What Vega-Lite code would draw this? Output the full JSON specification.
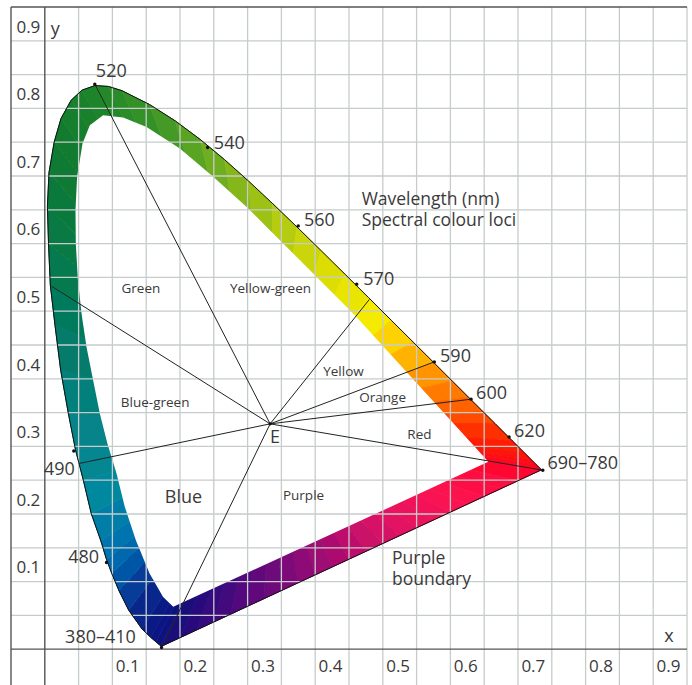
{
"$schema": "https://vega.github.io/schema/vega-lite/v6.json",
"width": 676, "height": 678,
"autosize": {"type": "none"},
"padding": {"left": 11, "top": 7, "right": 5, "bottom": 0},
"background": "white",
"config": {"view": {"stroke": null}, "text": {"font": "Open Sans", "color": "#3a3a3a"}},
"datasets": {
"wedges": [
{"w":1,"v":0,"x":0.3333,"y":0.3333,"t":400},{"w":1,"v":1,"x":0.1741,"y":0.005,"t":400},{"w":1,"v":2,"x":0.1714,"y":0.0051,"t":400},
{"w":2,"v":0,"x":0.3333,"y":0.3333,"t":430},{"w":2,"v":1,"x":0.1714,"y":0.0051,"t":430},{"w":2,"v":2,"x":0.1644,"y":0.0109,"t":430},
{"w":3,"v":0,"x":0.3333,"y":0.3333,"t":445},{"w":3,"v":1,"x":0.1644,"y":0.0109,"t":445},{"w":3,"v":2,"x":0.1566,"y":0.0177,"t":445},
{"w":4,"v":0,"x":0.3333,"y":0.3333,"t":455},{"w":4,"v":1,"x":0.1566,"y":0.0177,"t":455},{"w":4,"v":2,"x":0.144,"y":0.0297,"t":455},
{"w":5,"v":0,"x":0.3333,"y":0.3333,"t":465},{"w":5,"v":1,"x":0.144,"y":0.0297,"t":465},{"w":5,"v":2,"x":0.1241,"y":0.0578,"t":465},
{"w":6,"v":0,"x":0.3333,"y":0.3333,"t":472.5},{"w":6,"v":1,"x":0.1241,"y":0.0578,"t":472.5},{"w":6,"v":2,"x":0.1096,"y":0.0868,"t":472.5},
{"w":7,"v":0,"x":0.3333,"y":0.3333,"t":476.5},{"w":7,"v":1,"x":0.1096,"y":0.0868,"t":476.5},{"w":7,"v":2,"x":0.099,"y":0.1123,"t":476.5},
{"w":8,"v":0,"x":0.3333,"y":0.3333,"t":479},{"w":8,"v":1,"x":0.099,"y":0.1123,"t":479},{"w":8,"v":2,"x":0.0913,"y":0.1327,"t":479},
{"w":9,"v":0,"x":0.3333,"y":0.3333,"t":481},{"w":9,"v":1,"x":0.0913,"y":0.1327,"t":481},{"w":9,"v":2,"x":0.083,"y":0.16,"t":481},
{"w":10,"v":0,"x":0.3333,"y":0.3333,"t":483.5},{"w":10,"v":1,"x":0.083,"y":0.16,"t":483.5},{"w":10,"v":2,"x":0.0687,"y":0.2007,"t":483.5},
{"w":11,"v":0,"x":0.3333,"y":0.3333,"t":486.5},{"w":11,"v":1,"x":0.0687,"y":0.2007,"t":486.5},{"w":11,"v":2,"x":0.057,"y":0.25,"t":486.5},
{"w":12,"v":0,"x":0.3333,"y":0.3333,"t":489},{"w":12,"v":1,"x":0.057,"y":0.25,"t":489},{"w":12,"v":2,"x":0.0454,"y":0.295,"t":489},
{"w":13,"v":0,"x":0.3333,"y":0.3333,"t":491},{"w":13,"v":1,"x":0.0454,"y":0.295,"t":491},{"w":13,"v":2,"x":0.0348,"y":0.349,"t":491},
{"w":14,"v":0,"x":0.3333,"y":0.3333,"t":493.5},{"w":14,"v":1,"x":0.0348,"y":0.349,"t":493.5},{"w":14,"v":2,"x":0.0235,"y":0.4127,"t":493.5},
{"w":15,"v":0,"x":0.3333,"y":0.3333,"t":496.2},{"w":15,"v":1,"x":0.0235,"y":0.4127,"t":496.2},{"w":15,"v":2,"x":0.015,"y":0.48,"t":496.2},
{"w":16,"v":0,"x":0.3333,"y":0.3333,"t":498.8},{"w":16,"v":1,"x":0.015,"y":0.48,"t":498.8},{"w":16,"v":2,"x":0.0082,"y":0.5384,"t":498.8},
{"w":17,"v":0,"x":0.3333,"y":0.3333,"t":501.2},{"w":17,"v":1,"x":0.0082,"y":0.5384,"t":501.2},{"w":17,"v":2,"x":0.0055,"y":0.6,"t":501.2},
{"w":18,"v":0,"x":0.3333,"y":0.3333,"t":503.8},{"w":18,"v":1,"x":0.0055,"y":0.6,"t":503.8},{"w":18,"v":2,"x":0.0039,"y":0.6548,"t":503.8},
{"w":19,"v":0,"x":0.3333,"y":0.3333,"t":506.2},{"w":19,"v":1,"x":0.0039,"y":0.6548,"t":506.2},{"w":19,"v":2,"x":0.0062,"y":0.705,"t":506.2},
{"w":20,"v":0,"x":0.3333,"y":0.3333,"t":508.8},{"w":20,"v":1,"x":0.0062,"y":0.705,"t":508.8},{"w":20,"v":2,"x":0.0139,"y":0.7502,"t":508.8},
{"w":21,"v":0,"x":0.3333,"y":0.3333,"t":511.2},{"w":21,"v":1,"x":0.0139,"y":0.7502,"t":511.2},{"w":21,"v":2,"x":0.024,"y":0.785,"t":511.2},
{"w":22,"v":0,"x":0.3333,"y":0.3333,"t":513.8},{"w":22,"v":1,"x":0.024,"y":0.785,"t":513.8},{"w":22,"v":2,"x":0.0389,"y":0.812,"t":513.8},
{"w":23,"v":0,"x":0.3333,"y":0.3333,"t":516.2},{"w":23,"v":1,"x":0.0389,"y":0.812,"t":516.2},{"w":23,"v":2,"x":0.055,"y":0.827,"t":516.2},
{"w":24,"v":0,"x":0.3333,"y":0.3333,"t":518.8},{"w":24,"v":1,"x":0.055,"y":0.827,"t":518.8},{"w":24,"v":2,"x":0.0743,"y":0.8338,"t":518.8},
{"w":25,"v":0,"x":0.3333,"y":0.3333,"t":521.2},{"w":25,"v":1,"x":0.0743,"y":0.8338,"t":521.2},{"w":25,"v":2,"x":0.094,"y":0.8325,"t":521.2},
{"w":26,"v":0,"x":0.3333,"y":0.3333,"t":523.8},{"w":26,"v":1,"x":0.094,"y":0.8325,"t":523.8},{"w":26,"v":2,"x":0.1142,"y":0.8262,"t":523.8},
{"w":27,"v":0,"x":0.3333,"y":0.3333,"t":527.5},{"w":27,"v":1,"x":0.1142,"y":0.8262,"t":527.5},{"w":27,"v":2,"x":0.1547,"y":0.8059,"t":527.5},
{"w":28,"v":0,"x":0.3333,"y":0.3333,"t":532.5},{"w":28,"v":1,"x":0.1547,"y":0.8059,"t":532.5},{"w":28,"v":2,"x":0.1929,"y":0.7816,"t":532.5},
{"w":29,"v":0,"x":0.3333,"y":0.3333,"t":537.5},{"w":29,"v":1,"x":0.1929,"y":0.7816,"t":537.5},{"w":29,"v":2,"x":0.2296,"y":0.7543,"t":537.5},
{"w":30,"v":0,"x":0.3333,"y":0.3333,"t":542.5},{"w":30,"v":1,"x":0.2296,"y":0.7543,"t":542.5},{"w":30,"v":2,"x":0.2658,"y":0.7243,"t":542.5},
{"w":31,"v":0,"x":0.3333,"y":0.3333,"t":547.5},{"w":31,"v":1,"x":0.2658,"y":0.7243,"t":547.5},{"w":31,"v":2,"x":0.3016,"y":0.6923,"t":547.5},
{"w":32,"v":0,"x":0.3333,"y":0.3333,"t":552.5},{"w":32,"v":1,"x":0.3016,"y":0.6923,"t":552.5},{"w":32,"v":2,"x":0.3373,"y":0.6589,"t":552.5},
{"w":33,"v":0,"x":0.3333,"y":0.3333,"t":557.5},{"w":33,"v":1,"x":0.3373,"y":0.6589,"t":557.5},{"w":33,"v":2,"x":0.3731,"y":0.6245,"t":557.5},
{"w":34,"v":0,"x":0.3333,"y":0.3333,"t":562.5},{"w":34,"v":1,"x":0.3731,"y":0.6245,"t":562.5},{"w":34,"v":2,"x":0.4087,"y":0.5896,"t":562.5},
{"w":35,"v":0,"x":0.3333,"y":0.3333,"t":567.5},{"w":35,"v":1,"x":0.4087,"y":0.5896,"t":567.5},{"w":35,"v":2,"x":0.4441,"y":0.5547,"t":567.5},
{"w":36,"v":0,"x":0.3333,"y":0.3333,"t":572.5},{"w":36,"v":1,"x":0.4441,"y":0.5547,"t":572.5},{"w":36,"v":2,"x":0.4788,"y":0.5202,"t":572.5},
{"w":37,"v":0,"x":0.3333,"y":0.3333,"t":577.5},{"w":37,"v":1,"x":0.4788,"y":0.5202,"t":577.5},{"w":37,"v":2,"x":0.5125,"y":0.4866,"t":577.5},
{"w":38,"v":0,"x":0.3333,"y":0.3333,"t":582.5},{"w":38,"v":1,"x":0.5125,"y":0.4866,"t":582.5},{"w":38,"v":2,"x":0.5448,"y":0.4544,"t":582.5},
{"w":39,"v":0,"x":0.3333,"y":0.3333,"t":587.5},{"w":39,"v":1,"x":0.5448,"y":0.4544,"t":587.5},{"w":39,"v":2,"x":0.5752,"y":0.4242,"t":587.5},
{"w":40,"v":0,"x":0.3333,"y":0.3333,"t":592.5},{"w":40,"v":1,"x":0.5752,"y":0.4242,"t":592.5},{"w":40,"v":2,"x":0.6029,"y":0.3965,"t":592.5},
{"w":41,"v":0,"x":0.3333,"y":0.3333,"t":597.5},{"w":41,"v":1,"x":0.6029,"y":0.3965,"t":597.5},{"w":41,"v":2,"x":0.627,"y":0.3725,"t":597.5},
{"w":42,"v":0,"x":0.3333,"y":0.3333,"t":602.5},{"w":42,"v":1,"x":0.627,"y":0.3725,"t":602.5},{"w":42,"v":2,"x":0.6482,"y":0.3514,"t":602.5},
{"w":43,"v":0,"x":0.3333,"y":0.3333,"t":607.5},{"w":43,"v":1,"x":0.6482,"y":0.3514,"t":607.5},{"w":43,"v":2,"x":0.6658,"y":0.334,"t":607.5},
{"w":44,"v":0,"x":0.3333,"y":0.3333,"t":615},{"w":44,"v":1,"x":0.6658,"y":0.334,"t":615},{"w":44,"v":2,"x":0.6915,"y":0.3083,"t":615},
{"w":45,"v":0,"x":0.3333,"y":0.3333,"t":625},{"w":45,"v":1,"x":0.6915,"y":0.3083,"t":625},{"w":45,"v":2,"x":0.7079,"y":0.292,"t":625},
{"w":46,"v":0,"x":0.3333,"y":0.3333,"t":635},{"w":46,"v":1,"x":0.7079,"y":0.292,"t":635},{"w":46,"v":2,"x":0.719,"y":0.2809,"t":635},
{"w":47,"v":0,"x":0.3333,"y":0.3333,"t":645},{"w":47,"v":1,"x":0.719,"y":0.2809,"t":645},{"w":47,"v":2,"x":0.726,"y":0.274,"t":645},
{"w":48,"v":0,"x":0.3333,"y":0.3333,"t":675},{"w":48,"v":1,"x":0.726,"y":0.274,"t":675},{"w":48,"v":2,"x":0.7347,"y":0.2653,"t":675},
{"w":49,"v":0,"x":0.3333,"y":0.3333,"t":702},{"w":49,"v":1,"x":0.7347,"y":0.2653,"t":702},{"w":49,"v":2,"x":0.70,"y":0.2492,"t":702},
{"w":50,"v":0,"x":0.3333,"y":0.3333,"t":705},{"w":50,"v":1,"x":0.70,"y":0.2492,"t":705},{"w":50,"v":2,"x":0.675,"y":0.2376,"t":705},
{"w":51,"v":0,"x":0.3333,"y":0.3333,"t":707.7},{"w":51,"v":1,"x":0.675,"y":0.2376,"t":707.7},{"w":51,"v":2,"x":0.65,"y":0.226,"t":707.7},
{"w":52,"v":0,"x":0.3333,"y":0.3333,"t":710.4},{"w":52,"v":1,"x":0.65,"y":0.226,"t":710.4},{"w":52,"v":2,"x":0.625,"y":0.2144,"t":710.4},
{"w":53,"v":0,"x":0.3333,"y":0.3333,"t":713.1},{"w":53,"v":1,"x":0.625,"y":0.2144,"t":713.1},{"w":53,"v":2,"x":0.60,"y":0.2027,"t":713.1},
{"w":54,"v":0,"x":0.3333,"y":0.3333,"t":715.7},{"w":54,"v":1,"x":0.60,"y":0.2027,"t":715.7},{"w":54,"v":2,"x":0.575,"y":0.1911,"t":715.7},
{"w":55,"v":0,"x":0.3333,"y":0.3333,"t":718.4},{"w":55,"v":1,"x":0.575,"y":0.1911,"t":718.4},{"w":55,"v":2,"x":0.55,"y":0.1795,"t":718.4},
{"w":56,"v":0,"x":0.3333,"y":0.3333,"t":721.1},{"w":56,"v":1,"x":0.55,"y":0.1795,"t":721.1},{"w":56,"v":2,"x":0.525,"y":0.1679,"t":721.1},
{"w":57,"v":0,"x":0.3333,"y":0.3333,"t":723.8},{"w":57,"v":1,"x":0.525,"y":0.1679,"t":723.8},{"w":57,"v":2,"x":0.50,"y":0.1563,"t":723.8},
{"w":58,"v":0,"x":0.3333,"y":0.3333,"t":726.5},{"w":58,"v":1,"x":0.50,"y":0.1563,"t":726.5},{"w":58,"v":2,"x":0.475,"y":0.1447,"t":726.5},
{"w":59,"v":0,"x":0.3333,"y":0.3333,"t":729.1},{"w":59,"v":1,"x":0.475,"y":0.1447,"t":729.1},{"w":59,"v":2,"x":0.45,"y":0.1331,"t":729.1},
{"w":60,"v":0,"x":0.3333,"y":0.3333,"t":731.8},{"w":60,"v":1,"x":0.45,"y":0.1331,"t":731.8},{"w":60,"v":2,"x":0.425,"y":0.1215,"t":731.8},
{"w":61,"v":0,"x":0.3333,"y":0.3333,"t":734.5},{"w":61,"v":1,"x":0.425,"y":0.1215,"t":734.5},{"w":61,"v":2,"x":0.40,"y":0.1099,"t":734.5},
{"w":62,"v":0,"x":0.3333,"y":0.3333,"t":737.2},{"w":62,"v":1,"x":0.40,"y":0.1099,"t":737.2},{"w":62,"v":2,"x":0.375,"y":0.0983,"t":737.2},
{"w":63,"v":0,"x":0.3333,"y":0.3333,"t":739.8},{"w":63,"v":1,"x":0.375,"y":0.0983,"t":739.8},{"w":63,"v":2,"x":0.35,"y":0.0867,"t":739.8},
{"w":64,"v":0,"x":0.3333,"y":0.3333,"t":742.5},{"w":64,"v":1,"x":0.35,"y":0.0867,"t":742.5},{"w":64,"v":2,"x":0.325,"y":0.0751,"t":742.5},
{"w":65,"v":0,"x":0.3333,"y":0.3333,"t":745.2},{"w":65,"v":1,"x":0.325,"y":0.0751,"t":745.2},{"w":65,"v":2,"x":0.30,"y":0.0635,"t":745.2},
{"w":66,"v":0,"x":0.3333,"y":0.3333,"t":747.9},{"w":66,"v":1,"x":0.30,"y":0.0635,"t":747.9},{"w":66,"v":2,"x":0.275,"y":0.0518,"t":747.9},
{"w":67,"v":0,"x":0.3333,"y":0.3333,"t":750.6},{"w":67,"v":1,"x":0.275,"y":0.0518,"t":750.6},{"w":67,"v":2,"x":0.25,"y":0.0402,"t":750.6},
{"w":68,"v":0,"x":0.3333,"y":0.3333,"t":753.3},{"w":68,"v":1,"x":0.25,"y":0.0402,"t":753.3},{"w":68,"v":2,"x":0.225,"y":0.0286,"t":753.3},
{"w":69,"v":0,"x":0.3333,"y":0.3333,"t":755.9},{"w":69,"v":1,"x":0.225,"y":0.0286,"t":755.9},{"w":69,"v":2,"x":0.20,"y":0.017,"t":755.9},
{"w":70,"v":0,"x":0.3333,"y":0.3333,"t":758.6},{"w":70,"v":1,"x":0.20,"y":0.017,"t":758.6},{"w":70,"v":2,"x":0.1741,"y":0.005,"t":758.6}
],
"loc": [
{"i":1,"x":0.1741,"y":0.005},{"i":2,"x":0.1714,"y":0.0051},{"i":3,"x":0.1644,"y":0.0109},{"i":4,"x":0.1566,"y":0.0177},{"i":5,"x":0.144,"y":0.0297},{"i":6,"x":0.1241,"y":0.0578},{"i":7,"x":0.1096,"y":0.0868},{"i":8,"x":0.099,"y":0.1123},{"i":9,"x":0.0913,"y":0.1327},{"i":10,"x":0.083,"y":0.16},{"i":11,"x":0.0687,"y":0.2007},{"i":12,"x":0.057,"y":0.25},{"i":13,"x":0.0454,"y":0.295},{"i":14,"x":0.0348,"y":0.349},{"i":15,"x":0.0235,"y":0.4127},{"i":16,"x":0.015,"y":0.48},{"i":17,"x":0.0082,"y":0.5384},{"i":18,"x":0.0055,"y":0.6},{"i":19,"x":0.0039,"y":0.6548},{"i":20,"x":0.0062,"y":0.705},{"i":21,"x":0.0139,"y":0.7502},{"i":22,"x":0.024,"y":0.785},{"i":23,"x":0.0389,"y":0.812},{"i":24,"x":0.055,"y":0.827},{"i":25,"x":0.0743,"y":0.8338},{"i":26,"x":0.094,"y":0.8325},{"i":27,"x":0.1142,"y":0.8262},{"i":28,"x":0.1547,"y":0.8059},{"i":29,"x":0.1929,"y":0.7816},{"i":30,"x":0.2296,"y":0.7543},{"i":31,"x":0.2658,"y":0.7243},{"i":32,"x":0.3016,"y":0.6923},{"i":33,"x":0.3373,"y":0.6589},{"i":34,"x":0.3731,"y":0.6245},{"i":35,"x":0.4087,"y":0.5896},{"i":36,"x":0.4441,"y":0.5547},{"i":37,"x":0.4788,"y":0.5202},{"i":38,"x":0.5125,"y":0.4866},{"i":39,"x":0.5448,"y":0.4544},{"i":40,"x":0.5752,"y":0.4242},{"i":41,"x":0.6029,"y":0.3965},{"i":42,"x":0.627,"y":0.3725},{"i":43,"x":0.6482,"y":0.3514},{"i":44,"x":0.6658,"y":0.334},{"i":45,"x":0.6915,"y":0.3083},{"i":46,"x":0.7079,"y":0.292},{"i":47,"x":0.719,"y":0.2809},{"i":48,"x":0.726,"y":0.274},{"i":49,"x":0.7347,"y":0.2653},{"i":50,"x":0.1741,"y":0.005}
],
"inner": [
{"o":1,"x":0.19,"y":0.0626},{"o":2,"x":0.175,"y":0.0773},{"o":3,"x":0.155,"y":0.1119},{"o":4,"x":0.1347,"y":0.1612},{"o":5,"x":0.1184,"y":0.2105},{"o":6,"x":0.1061,"y":0.2599},{"o":7,"x":0.0925,"y":0.3047},{"o":8,"x":0.0814,"y":0.3487},{"o":9,"x":0.0715,"y":0.3979},{"o":10,"x":0.0617,"y":0.4472},{"o":11,"x":0.0543,"y":0.4966},{"o":12,"x":0.0488,"y":0.5488},{"o":13,"x":0.0459,"y":0.6001},{"o":14,"x":0.0454,"y":0.6494},{"o":15,"x":0.0478,"y":0.6987},{"o":16,"x":0.0558,"y":0.7481},{"o":17,"x":0.0666,"y":0.7751},{"o":18,"x":0.0863,"y":0.7899},{"o":19,"x":0.1159,"y":0.7865},{"o":20,"x":0.1505,"y":0.7726},{"o":21,"x":0.1998,"y":0.7407},{"o":22,"x":0.2491,"y":0.6987},{"o":23,"x":0.2986,"y":0.6543},{"o":24,"x":0.3478,"y":0.605},{"o":25,"x":0.4022,"y":0.5507},{"o":26,"x":0.4563,"y":0.4966},{"o":27,"x":0.6562,"y":0.2771}
],
"vgrid": [{"x":0.05},{"x":0.1},{"x":0.15},{"x":0.2},{"x":0.25},{"x":0.3},{"x":0.35},{"x":0.4},{"x":0.45},{"x":0.5},{"x":0.55},{"x":0.6},{"x":0.65},{"x":0.7},{"x":0.75},{"x":0.8},{"x":0.85},{"x":0.9},{"x":0.95}],
"hgrid": [{"y":0.05},{"y":0.1},{"y":0.15},{"y":0.2},{"y":0.25},{"y":0.3},{"y":0.35},{"y":0.4},{"y":0.45},{"y":0.5},{"y":0.55},{"y":0.6},{"y":0.65},{"y":0.7},{"y":0.75},{"y":0.8},{"y":0.85},{"y":0.9}],
"vdark": [{"x":-0.05},{"x":0}],
"hdark": [{"y":0},{"y":0.95}],
"spokes": [
{"x":0.3333,"y":0.3333,"x2":0.074,"y2":0.8358},
{"x":0.3333,"y":0.3333,"x2":0.0099,"y2":0.537},
{"x":0.3333,"y":0.3333,"x2":0.0508,"y2":0.2747},
{"x":0.3333,"y":0.3333,"x2":0.1741,"y2":0.005},
{"x":0.3333,"y":0.3333,"x2":0.48,"y2":0.5173},
{"x":0.3333,"y":0.3333,"x2":0.5762,"y2":0.425},
{"x":0.3333,"y":0.3333,"x2":0.6306,"y2":0.3698},
{"x":0.3333,"y":0.3333,"x2":0.7367,"y2":0.2648}
],
"dots": [{"x":0.074,"y":0.8358},{"x":0.2408,"y":0.7422},{"x":0.3749,"y":0.6262},{"x":0.4614,"y":0.5399},{"x":0.5762,"y":0.425},{"x":0.6306,"y":0.3698},{"x":0.6868,"y":0.314},{"x":0.7367,"y":0.2648},{"x":0.0429,"y":0.2933},{"x":0.0913,"y":0.1282},{"x":0.1727,"y":0.0025},{"x":0.3333,"y":0.3333}],
"labels": [
{"label":"520","x":0.0755,"y":0.8536},{"label":"540","x":0.2501,"y":0.748},{"label":"560","x":0.3834,"y":0.6331},{"label":"570","x":0.4712,"y":0.5459},{"label":"590","x":0.5847,"y":0.4324},{"label":"600","x":0.638,"y":0.3777},{"label":"620","x":0.6942,"y":0.321},{"label":"690–780","x":0.7435,"y":0.2737},
{"label":"E","x":0.333,"y":0.3121},{"label":"Blue","x":0.1776,"y":0.2241},
{"label":"x","x":0.9162,"y":0.0178},{"label":"y","x":0.0087,"y":0.916}
],
"twoline": [
{"label":"Wavelength (nm)","x":0.4687,"y":0.6652},{"label":"Spectral colour loci","x":0.4687,"y":0.6336},
{"label":"Purple","x":0.5136,"y":0.1341},{"label":"boundary","x":0.5136,"y":0.1026}
],
"rlabels": [{"label":"490","x":0.0444,"y":0.2648},{"label":"480","x":0.0804,"y":0.1346},{"label":"380–410","x":0.1347,"y":0.0163}],
"small": [{"label":"Green","x":0.1135,"y":0.5325},{"label":"Yellow-green","x":0.2738,"y":0.5325},{"label":"Blue-green","x":0.1125,"y":0.3639},{"label":"Yellow","x":0.4119,"y":0.4098},{"label":"Orange","x":0.4652,"y":0.3713},{"label":"Red","x":0.5363,"y":0.3173},{"label":"Purple","x":0.3523,"y":0.2271}],
"ticks": [
{"label":"0.1","x":0.105,"y":-0.027},{"label":"0.2","x":0.205,"y":-0.027},{"label":"0.3","x":0.305,"y":-0.027},{"label":"0.4","x":0.405,"y":-0.027},{"label":"0.5","x":0.505,"y":-0.027},{"label":"0.6","x":0.605,"y":-0.027},{"label":"0.7","x":0.705,"y":-0.027},{"label":"0.8","x":0.805,"y":-0.027},{"label":"0.9","x":0.905,"y":-0.027},
{"label":"0.1","x":-0.042,"y":0.1195},{"label":"0.2","x":-0.042,"y":0.2195},{"label":"0.3","x":-0.042,"y":0.3195},{"label":"0.4","x":-0.042,"y":0.4195},{"label":"0.5","x":-0.042,"y":0.5195},{"label":"0.6","x":-0.042,"y":0.6195},{"label":"0.7","x":-0.042,"y":0.7195},{"label":"0.8","x":-0.042,"y":0.8195},{"label":"0.9","x":-0.042,"y":0.9195}
]
},
"layer": [
{"data": {"name": "wedges"},
 "mark": {"type": "line", "filled": true, "strokeWidth": 1},
 "encoding": {
  "x": {"field": "x", "type": "quantitative", "scale": {"domain": [-0.05, 0.95], "nice": false, "zero": false}, "axis": null},
  "y": {"field": "y", "type": "quantitative", "scale": {"domain": [-0.053, 0.95], "nice": false, "zero": false}, "axis": null},
  "detail": {"field": "w", "type": "nominal"},
  "order": {"field": "v", "type": "quantitative"},
  "fill": {"field": "t", "type": "quantitative", "legend": null, "scale": {"domain": [380,440,460,470,475,480,487,492,497,502,510,520,530,540,550,560,570,578,585,590,600,610,620,650,700,705,712,720,727,735,742,750,757,760], "range": ["#12107a","#0c1282","#0a1c86","#0a3090","#0a4aa0","#0a70b0","#0a8a9c","#0a8284","#097a66","#0a7a48","#107a30","#1f8628","#3a9528","#64a922","#92bc18","#c2d10e","#e3e100","#f6ec00","#ffc400","#ffa000","#ff6c00","#ff3c00","#ff2000","#ff0814","#ff0a24","#ff0c40","#fb1450","#e81460","#c81268","#9a0e74","#700c7a","#460a7e","#220a7c","#12107a"]}},
  "stroke": {"field": "t", "type": "quantitative", "legend": null, "scale": {"domain": [380,440,460,470,475,480,487,492,497,502,510,520,530,540,550,560,570,578,585,590,600,610,620,650,700,705,712,720,727,735,742,750,757,760], "range": ["#12107a","#0c1282","#0a1c86","#0a3090","#0a4aa0","#0a70b0","#0a8a9c","#0a8284","#097a66","#0a7a48","#107a30","#1f8628","#3a9528","#64a922","#92bc18","#c2d10e","#e3e100","#f6ec00","#ffc400","#ffa000","#ff6c00","#ff3c00","#ff2000","#ff0814","#ff0a24","#ff0c40","#fb1450","#e81460","#c81268","#9a0e74","#700c7a","#460a7e","#220a7c","#12107a"]}}
 }},
{"data": {"name": "inner"},
 "mark": {"type": "line", "filled": true, "color": "white", "strokeWidth": 0},
 "encoding": {
  "x": {"field": "x", "type": "quantitative"},
  "y": {"field": "y", "type": "quantitative"},
  "order": {"field": "o", "type": "quantitative"}
 }},
{"data": {"name": "vgrid"},
 "mark": {"type": "rule", "color": "#c6cccb", "strokeWidth": 1.3},
 "encoding": {"x": {"field": "x", "type": "quantitative"}}},
{"data": {"name": "hgrid"},
 "mark": {"type": "rule", "color": "#c6cccb", "strokeWidth": 1.3},
 "encoding": {"y": {"field": "y", "type": "quantitative"}}},
{"data": {"name": "vdark"},
 "mark": {"type": "rule", "color": "#555555", "strokeWidth": 1.4},
 "encoding": {"x": {"field": "x", "type": "quantitative"}}},
{"data": {"name": "hdark"},
 "mark": {"type": "rule", "color": "#555555", "strokeWidth": 1.4},
 "encoding": {"y": {"field": "y", "type": "quantitative"}}},
{"data": {"name": "loc"},
 "mark": {"type": "line", "color": "#111111", "strokeWidth": 1},
 "encoding": {
  "x": {"field": "x", "type": "quantitative"},
  "y": {"field": "y", "type": "quantitative"},
  "order": {"field": "i", "type": "quantitative"}
 }},
{"data": {"name": "spokes"},
 "mark": {"type": "rule", "color": "#222222", "strokeWidth": 1},
 "encoding": {
  "x": {"field": "x", "type": "quantitative"},
  "y": {"field": "y", "type": "quantitative"},
  "x2": {"field": "x2"},
  "y2": {"field": "y2"}
 }},
{"data": {"name": "dots"},
 "mark": {"type": "circle", "color": "#111111", "size": 12, "opacity": 1},
 "encoding": {
  "x": {"field": "x", "type": "quantitative"},
  "y": {"field": "y", "type": "quantitative"}
 }},
{"data": {"name": "labels"},
 "mark": {"type": "text", "align": "left", "baseline": "middle", "fontSize": 18},
 "encoding": {
  "x": {"field": "x", "type": "quantitative"},
  "y": {"field": "y", "type": "quantitative"},
  "text": {"field": "label"}
 }},
{"data": {"name": "twoline"},
 "mark": {"type": "text", "align": "left", "baseline": "middle", "fontSize": 17.5},
 "encoding": {
  "x": {"field": "x", "type": "quantitative"},
  "y": {"field": "y", "type": "quantitative"},
  "text": {"field": "label"}
 }},
{"data": {"name": "rlabels"},
 "mark": {"type": "text", "align": "right", "baseline": "middle", "fontSize": 18},
 "encoding": {
  "x": {"field": "x", "type": "quantitative"},
  "y": {"field": "y", "type": "quantitative"},
  "text": {"field": "label"}
 }},
{"data": {"name": "small"},
 "mark": {"type": "text", "align": "left", "baseline": "middle", "fontSize": 13.5},
 "encoding": {
  "x": {"field": "x", "type": "quantitative"},
  "y": {"field": "y", "type": "quantitative"},
  "text": {"field": "label"}
 }},
{"data": {"name": "ticks"},
 "mark": {"type": "text", "align": "left", "baseline": "middle", "fontSize": 17},
 "encoding": {
  "x": {"field": "x", "type": "quantitative"},
  "y": {"field": "y", "type": "quantitative"},
  "text": {"field": "label"}
 }}
]
}
